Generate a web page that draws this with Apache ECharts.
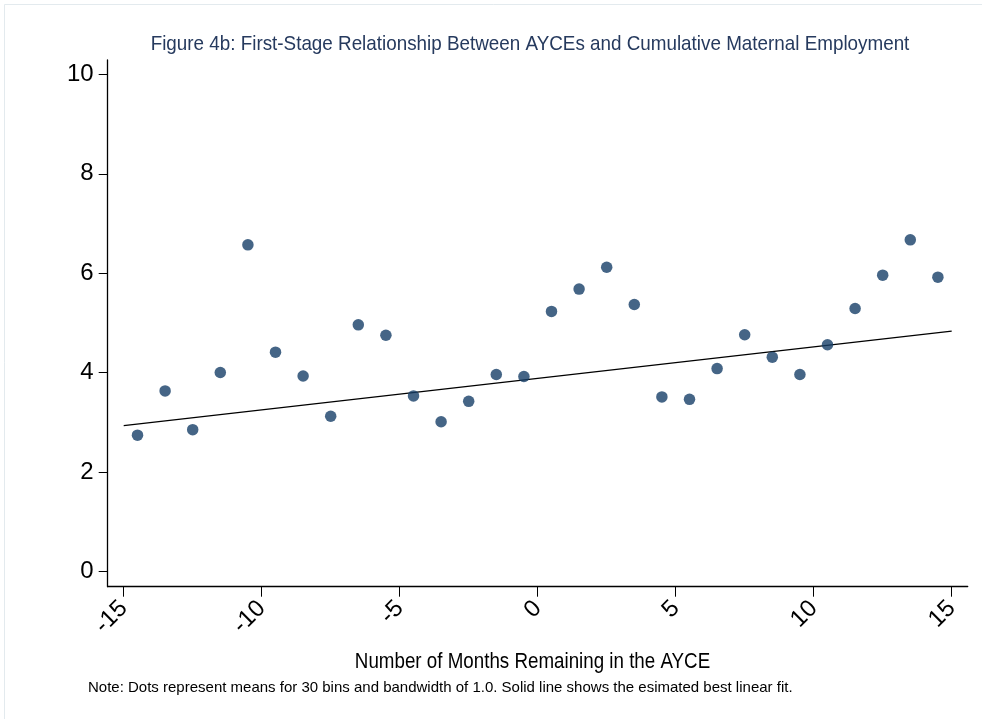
<!DOCTYPE html>
<html>
<head>
<meta charset="utf-8">
<script src="https://cdn.jsdelivr.net/npm/echarts@6/dist/echarts.min.js"></script>
<style>
html,body{margin:0;padding:0;background:#fff;}
#chart{width:982px;height:719px;}
</style>
</head>
<body>
<div id="chart"></div>
<script>
// Bin centres (months remaining in the AYCE)
var binCenters = [-14.5,-13.5,-12.5,-11.5,-10.5,-9.5,-8.5,-7.5,-6.5,-5.5,-4.5,-3.5,-2.5,-1.5,-0.5,
                   0.5,1.5,2.5,3.5,4.5,5.5,6.5,7.5,8.5,9.5,10.5,11.5,12.5,13.5,14.5];
// Bin means of cumulative maternal employment
var binMeans = [2.74,3.63,2.85,4.00,6.57,4.41,3.93,3.12,4.96,4.75,3.53,3.01,3.42,3.96,3.92,
                5.23,5.68,6.12,5.37,3.51,3.46,4.08,4.76,4.31,3.96,4.56,5.29,5.96,6.67,5.92];
// Fitted linear line endpoints
var fitX = [-15, 15];
var fitY = [2.93, 4.835];
// Tick labels
var xTicks = [-15,-10,-5,0,5,10,15];
var yTicks = [0,2,4,6,8,10];

var titleText = 'Figure 4b: First-Stage Relationship Between AYCEs and Cumulative Maternal Employment';
var xName = 'Number of Months Remaining in the AYCE';
var noteText = 'Note: Dots represent means for 30 bins and bandwidth of 1.0. Solid line shows the esimated best linear fit.';

var regular = "'Liberation Sans',Arial,sans-serif";

var scatterData = binCenters.map(function(x,i){return [x, binMeans[i]];});
var fitData = fitX.map(function(x,i){return [x, fitY[i]];});

var chart = echarts.init(document.getElementById('chart'));
chart.setOption({
  animation:false,
  backgroundColor:'#ffffff',
  grid:{left:107.7,right:14.3,top:60,bottom:132.3,outerBoundsMode:'none'},
  xAxis:{
    type:'value', min:-15.58, max:15.58,
    axisLine:{show:true,onZero:false,lineStyle:{color:'#000',width:1.3}},
    axisTick:{show:true,customValues:xTicks,length:10,lineStyle:{color:'#000',width:1}},
    axisLabel:{show:true,customValues:xTicks,rotate:45,margin:18,fontFamily:regular,fontSize:24,color:'#000'},
    splitLine:{show:false}
  },
  yAxis:{
    type:'value', min:-0.31, max:10.29,
    axisLine:{show:true,onZero:false,lineStyle:{color:'#000',width:1.3}},
    axisTick:{show:true,customValues:yTicks,length:9,lineStyle:{color:'#000',width:1}},
    axisLabel:{show:true,customValues:yTicks,margin:14,fontFamily:regular,fontSize:24,color:'#000'},
    splitLine:{show:false}
  },
  series:[
    {type:'line', data:fitData, showSymbol:false, symbol:'none',
     lineStyle:{color:'#000',width:1.2}, z:2},
    {type:'scatter', data:scatterData, symbol:'circle', symbolSize:11.5,
     itemStyle:{color:'#163f68'}, z:3}
  ],
  graphic:[
    {type:'rect', shape:{x:4.5,y:4.5,width:1000,height:800},
     style:{fill:'none',stroke:'#e3eaee',lineWidth:1}, silent:true},
    {type:'text', x:530, y:44, scaleX:0.897,
     style:{text:titleText,fontFamily:regular,fontSize:21,fill:'#263a5e',align:'center',verticalAlign:'middle'}},
    {type:'text', x:532.5, y:662, scaleX:0.853,
     style:{text:xName,fontFamily:regular,fontSize:22,fill:'#000',align:'center',verticalAlign:'middle'}},
    {type:'text', x:88, y:688,
     style:{text:noteText,fontFamily:regular,fontSize:15,fill:'#000',align:'left',verticalAlign:'middle'}}
  ]
});
</script>
</body>
</html>
